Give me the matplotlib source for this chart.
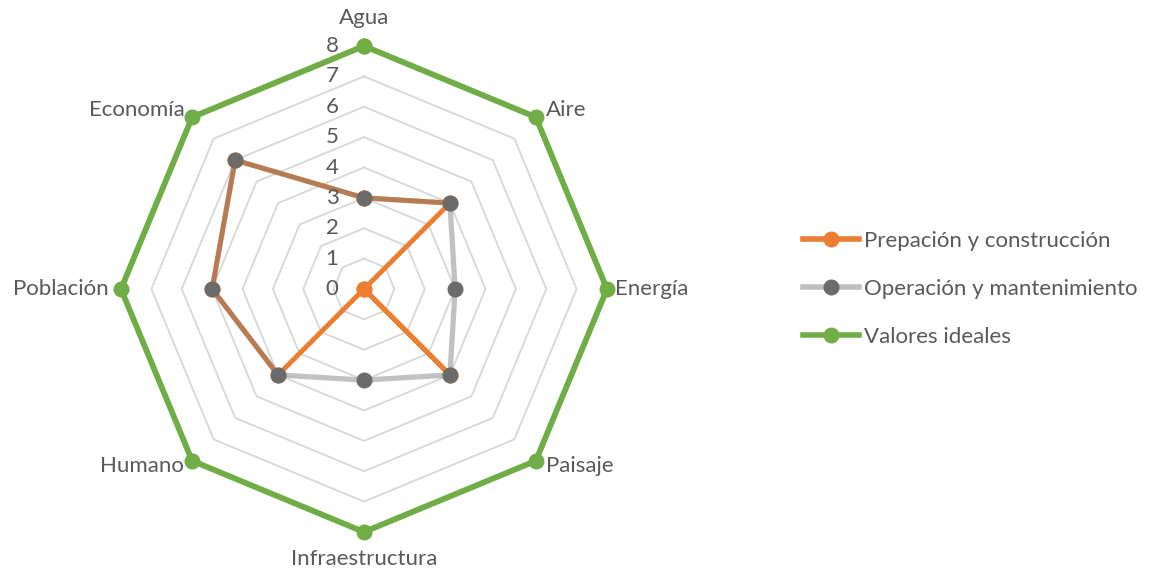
import numpy as np
import matplotlib
matplotlib.use("Agg")
import matplotlib.pyplot as plt
from matplotlib.lines import Line2D
import matplotlib.transforms as mtransforms

plt.rcParams['font.family'] = ['Lato', 'DejaVu Sans']

categories = ["Agua", "Aire", "Energía", "Paisaje", "Infraestructura", "Humano", "Población", "Economía"]
prep = [3, 4, 0, 4, 0, 4, 5, 6]
oper = [3, 4, 3, 4, 3, 4, 5, 6]
ideal = [8, 8, 8, 8, 8, 8, 8, 8]
series_names = ["Prepación y construcción", "Operación y mantenimiento", "Valores ideales"]
r_ticks = [0, 1, 2, 3, 4, 5, 6, 7, 8]

W, H = 1162, 569
fig = plt.figure(figsize=(W / 100, H / 100), dpi=100)
cx, cy, R = 364, 289, 243
ax = fig.add_axes([(cx - R) / W, (H - cy - R) / H, 2 * R / W, 2 * R / H], projection='polar')
ax.set_theta_zero_location('N')
ax.set_theta_direction(-1)
ax.set_ylim(0, 8)
ax.spines['polar'].set_visible(False)
ax.grid(False)
ax.set_xticks([])
ax.set_yticks([])
ax.patch.set_alpha(0)

n = len(categories)
theta = np.arange(n) * 2 * np.pi / n
theta_c = np.append(theta, theta[0])

def closed(v):
    return np.append(v, v[0])

# polygon grid
for r in r_ticks[1:-1]:
    ax.plot(theta_c, [r] * (n + 1), color='#d9d9d9', lw=1.4, zorder=1)

txtcol = '#595959'
fs = 16
for r in r_ticks:
    tr = mtransforms.offset_copy(ax.transData, fig=fig, x=-32, y=0, units='dots')
    ax.text(0, r, str(r), transform=tr, ha='center', va='center', fontsize=fs, color=txtcol, zorder=6)

# series
green = '#70ad47'
orange = '#ed7d31'
ax.plot(theta_c, closed(ideal), color=green, lw=4.2, marker='o', ms=10.5, zorder=3, clip_on=False)
ax.plot(theta_c, closed(prep), color=orange, lw=3.5, marker='o', ms=10.5, zorder=4, clip_on=False)
ax.plot(theta_c, closed(oper), color=(121/255, 121/255, 121/255), alpha=0.46, lw=3.8, zorder=5, clip_on=False)
ax.plot(theta, oper, ls='none', marker='o', ms=10.5, color='#6b6b6b', zorder=6)

# category labels
offs = [
    (0, 28, 'center', 'center'),
    (10, 7, 'left', 'center'),
    (8, 0, 'left', 'center'),
    (10, -5, 'left', 'center'),
    (0, -27, 'center', 'center'),
    (-8, -5, 'right', 'center'),
    (-12, 0, 'right', 'center'),
    (-7, 7, 'right', 'center'),
]
for t, lab, (dx, dy, ha, va) in zip(theta, categories, offs):
    tr = mtransforms.offset_copy(ax.transData, fig=fig, x=dx, y=dy, units='dots')
    ax.text(t, 8, lab, transform=tr, ha=ha, va=va, fontsize=fs, color=txtcol)

handles = [
    Line2D([], [], color=orange, lw=4, marker='o', ms=10.5),
    Line2D([], [], color='#bfbfbf', lw=4, marker='o', ms=10.5, markerfacecolor='#6b6b6b', markeredgecolor='#6b6b6b'),
    Line2D([], [], color=green, lw=4, marker='o', ms=10.5),
]
fig.legend(handles, series_names, loc='upper left', bbox_to_anchor=(803 / W, 1 - 231 / H),
           frameon=False, fontsize=fs, handlelength=2.5, handletextpad=0.25,
           labelspacing=1.25, borderpad=0, borderaxespad=0, labelcolor=txtcol)

fig.savefig('out.png', dpi=100)
